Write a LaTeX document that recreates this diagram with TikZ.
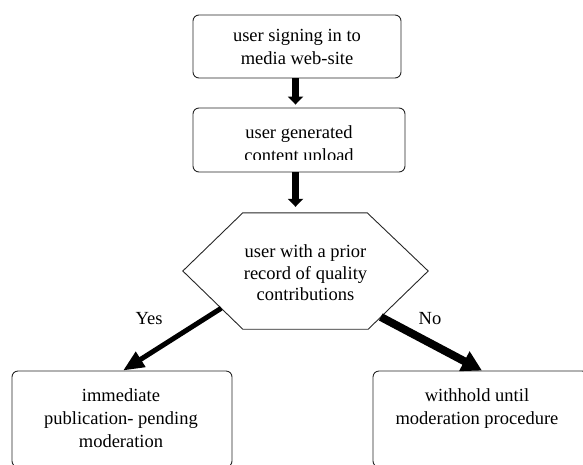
\documentclass[tikz,border=0pt]{standalone}
\usepackage{fontspec}
\setmainfont{Liberation Serif}
\usetikzlibrary{arrows.meta,calc}

\tikzset{
  flowbox/.style={draw=black!85, line width=0.9pt, rounded corners=6pt},
  flowtext/.style={align=center, font=\fontsize{18.5}{23}\selectfont, inner sep=0pt},
  flowarrow/.style={line width=6.5pt, -{Triangle[length=8pt,width=15pt]}},
  yesarrow/.style={line width=5pt, -{Triangle[length=21pt,width=17pt]}},
  noarrow/.style={line width=8pt, -{Triangle[length=20pt,width=21pt]}},
  branchlabel/.style={font=\fontsize{18.5}{23}\selectfont, inner sep=0pt}
}

\begin{document}
\begin{tikzpicture}[x=1pt,y=1pt]
\useasboundingbox (0,0) rectangle (583,-464);

% sign-in step
\node[flowbox, flowtext, minimum width=208pt, minimum height=63pt] (signin)
  at (297,-46.5) {user signing in to\\media web-site};

% upload step: the frame, then its text cut off above the lower border
\node[flowbox, minimum width=212pt, minimum height=64pt] (upload) at (299,-140) {};
\begin{scope}
  \clip ($(upload.north west)+(1,-1)$) rectangle ($(upload.south east)+(-1,12.5)$);
  \node[flowtext, anchor=north] (uploadtext) at ($(upload.north)+(0,-18)$)
    {user generated\\content upload};
\end{scope}

% decision hexagon
\node[minimum width=245pt, minimum height=116pt, inner sep=0pt] (decision) at (305.5,-271) {};
\coordinate (hexTL) at ($(decision.north west)+(60,0)$);
\coordinate (hexTR) at ($(decision.north east)+(-61,0)$);
\coordinate (hexBL) at ($(decision.south west)+(60,0)$);
\coordinate (hexBR) at ($(decision.south east)+(-60,0)$);
\draw[black!85, line width=0.9pt] (decision.west) -- (hexTL) -- (hexTR) -- (decision.east)
  -- (hexBR) -- (hexBL) -- cycle;
\node[flowtext, font=\fontsize{18.5}{21.5}\selectfont] (decisiontext) at (305.5,-273)
  {user with a prior\\record of quality\\contributions};

% outcomes
\node[flowbox, minimum width=220pt, minimum height=96pt] (publish) at (122,-419) {};
\node[flowtext, anchor=north] (publishtext) at (121,-388)
  {immediate\\publication- pending\\moderation};
\node[flowbox, minimum width=215pt, minimum height=96pt] (withhold) at (480.5,-419) {};
\node[flowtext, anchor=north] (withholdtext) at (477,-388)
  {withhold until\\moderation procedure};

% connectors
\draw[flowarrow] ($(signin.south)+(-1.5,0)$) -- ($(upload.north)+(-3.5,3)$);
\draw[flowarrow] ($(upload.south)+(-3.5,0)$) -- ($(decision.north)+(-10,6)$);
\coordinate (yesfrom) at ($(decision.west)!0.64!(hexBL)$);
\coordinate (nofrom) at ($(decision.east)!0.79!(hexBR)$);
\draw[yesarrow] (yesfrom) -- ($(publish.north)+(1,0)$);
\draw[noarrow] (nofrom) -- ($(withhold.north)+(1.5,0)$);

\node[branchlabel] (yeslabel) at (149,-319) {Yes};
\node[branchlabel] (nolabel) at (430,-319) {No};
\end{tikzpicture}
\end{document}
